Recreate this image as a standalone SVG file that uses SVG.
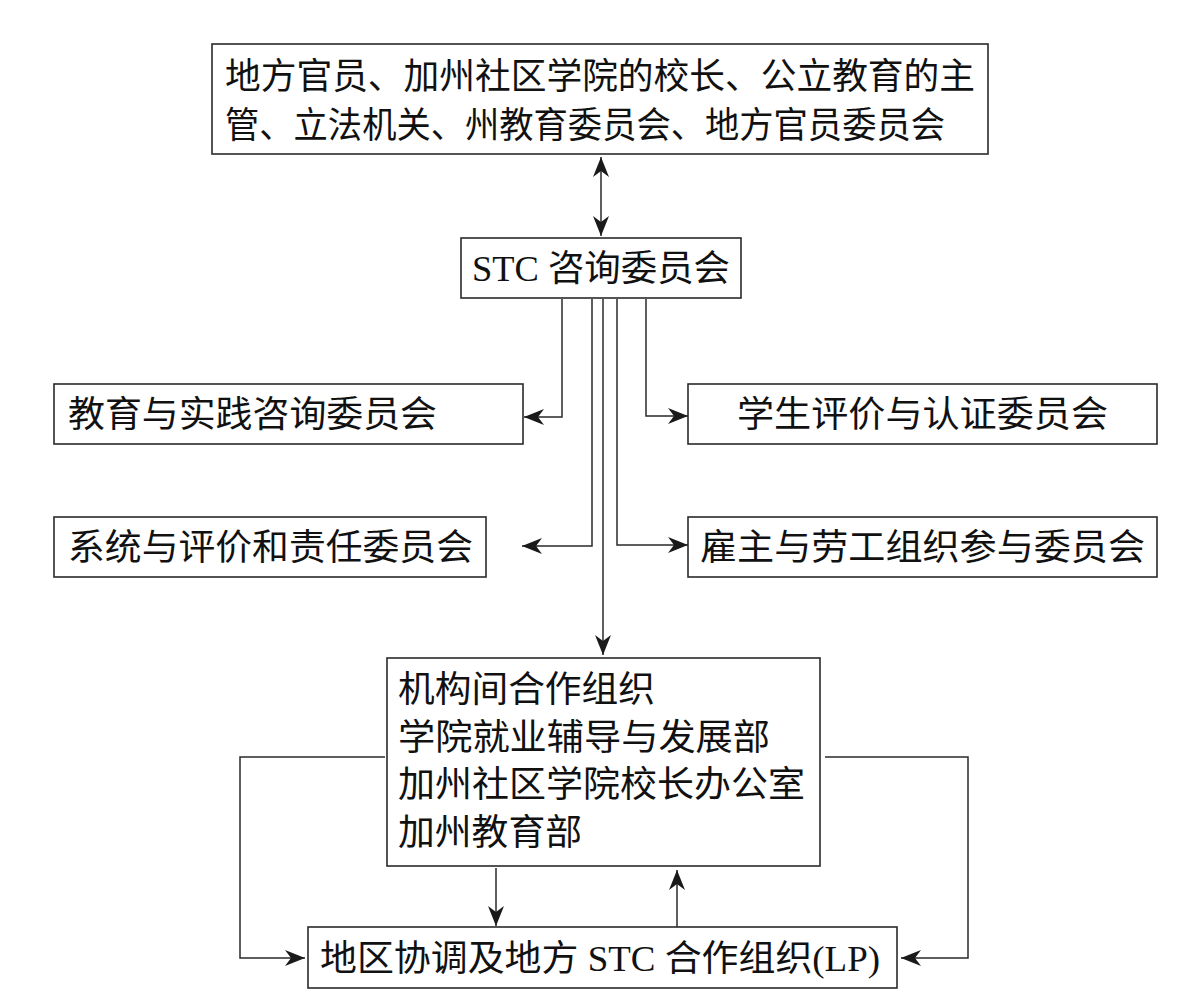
<svg xmlns="http://www.w3.org/2000/svg" width="1190" height="1006" viewBox="0 0 1190 1006">
<style>
.box{fill:#fff;stroke:#2a2a2a;stroke-width:1.6}
.t{font-family:"Liberation Serif","Noto Sans CJK SC",serif;font-size:36px;fill:#111}
.c{fill:none;stroke:#2a2a2a;stroke-width:1.5}
</style>
<defs>
<marker id="ah" viewBox="0 0 20 16" refX="20" refY="8" markerWidth="20" markerHeight="16" markerUnits="userSpaceOnUse" orient="auto-start-reverse">
<path d="M0,0 L20,8 L0,16 L6,8 z" fill="#1a1a1a"/>
</marker>
</defs>
<rect width="1190" height="1006" fill="#fff"/>
<g id="connectors">
<path class="c" d="M601,157 V236" marker-start="url(#ah)" marker-end="url(#ah)"/>
<path class="c" d="M562,299 V417 H524" marker-end="url(#ah)"/>
<path class="c" d="M592,299 V546 H522" marker-end="url(#ah)"/>
<path class="c" d="M603,299 V655" marker-end="url(#ah)"/>
<path class="c" d="M617,299 V545 H688" marker-end="url(#ah)"/>
<path class="c" d="M646,299 V416 H688" marker-end="url(#ah)"/>
<path class="c" d="M385,757 H240 V958 H305" marker-end="url(#ah)"/>
<path class="c" d="M825,757 H968 V958 H901" marker-end="url(#ah)"/>
<path class="c" d="M496,868 V926" marker-end="url(#ah)"/>
<path class="c" d="M677,927 V870" marker-end="url(#ah)"/>
</g>
<g id="top">
<rect class="box" x="212" y="44" width="776" height="110"/>
<text class="t" x="225" y="89" textLength="750" lengthAdjust="spacingAndGlyphs">地方官员、加州社区学院的校长、公立教育的主</text>
<text class="t" x="225" y="138" textLength="720" lengthAdjust="spacingAndGlyphs">管、立法机关、州教育委员会、地方官员委员会</text>
</g>
<g id="stc">
<rect class="box" x="461" y="238" width="280" height="60"/>
<text class="t" x="472" y="281" textLength="258" lengthAdjust="spacingAndGlyphs">STC 咨询委员会</text>
</g>
<g id="edu">
<rect class="box" x="54" y="384" width="469" height="60"/>
<text class="t" x="68" y="427" textLength="369" lengthAdjust="spacingAndGlyphs">教育与实践咨询委员会</text>
</g>
<g id="student">
<rect class="box" x="688" y="384" width="469" height="60"/>
<text class="t" x="737" y="427" textLength="371" lengthAdjust="spacingAndGlyphs">学生评价与认证委员会</text>
</g>
<g id="system">
<rect class="box" x="54" y="517" width="432" height="60"/>
<text class="t" x="68" y="560" textLength="405" lengthAdjust="spacingAndGlyphs">系统与评价和责任委员会</text>
</g>
<g id="employer">
<rect class="box" x="688" y="517" width="469" height="60"/>
<text class="t" x="700" y="560" textLength="445" lengthAdjust="spacingAndGlyphs">雇主与劳工组织参与委员会</text>
</g>
<g id="inter">
<rect class="box" x="387" y="658" width="433" height="208"/>
<text class="t" x="398" y="702" textLength="257" lengthAdjust="spacingAndGlyphs">机构间合作组织</text>
<text class="t" x="398" y="750" textLength="372" lengthAdjust="spacingAndGlyphs">学院就业辅导与发展部</text>
<text class="t" x="398" y="797" textLength="407" lengthAdjust="spacingAndGlyphs">加州社区学院校长办公室</text>
<text class="t" x="398" y="845" textLength="184" lengthAdjust="spacingAndGlyphs">加州教育部</text>
</g>
<g id="lp">
<rect class="box" x="308" y="927" width="589" height="61"/>
<text class="t" x="320" y="971" textLength="560" lengthAdjust="spacingAndGlyphs">地区协调及地方 STC 合作组织(LP)</text>
</g>
</svg>
